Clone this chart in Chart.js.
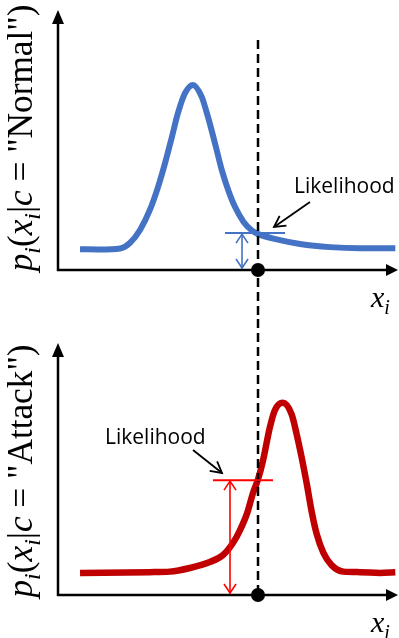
<!DOCTYPE html>
<html>
<head>
<meta charset="utf-8">
<script src="https://cdn.jsdelivr.net/npm/chart.js@4.4.1/dist/chart.umd.min.js"></script>
<style>
  html, body { margin: 0; padding: 0; background: #fff; }
  #wrap { position: relative; width: 399px; height: 638px; }
  canvas { position: absolute; left: 0; }
  #top-chart { top: 0; }
  #bottom-chart { top: 319px; }
</style>
</head>
<body>
<div id="wrap">
  <canvas id="top-chart" width="399" height="319"></canvas>
  <canvas id="bottom-chart" width="399" height="319"></canvas>
</div>
<script>
// curve samples (x: 0..10 along the axis, y: height above the axis)
const normalX = [0.65, 1.24, 1.83, 2.12, 2.42, 2.71, 2.95, 3.16, 3.36, 3.54, 3.75, 3.98, 4.24, 4.39, 4.53, 4.68, 4.83, 5.02, 5.22, 5.47, 5.71, 5.91, 6.55, 7.14, 8.02, 8.91, 9.95];
const normalY = [0.08, 0.079, 0.083, 0.104, 0.154, 0.231, 0.319, 0.412, 0.512, 0.604, 0.681, 0.712, 0.666, 0.604, 0.538, 0.462, 0.385, 0.308, 0.243, 0.186, 0.153, 0.138, 0.115, 0.1, 0.088, 0.084, 0.084];

const attackX = [0.65, 2.71, 3.30, 3.89, 4.48, 4.87, 5.16, 5.37, 5.58, 5.75, 5.90, 6.05, 6.25, 6.40, 6.63, 6.89, 7.04, 7.19, 7.34, 7.48, 7.63, 7.83, 8.07, 8.42, 8.91, 9.50, 9.95];
const attackY = [0.085, 0.088, 0.09, 0.104, 0.127, 0.154, 0.2, 0.25, 0.315, 0.392, 0.445, 0.519, 0.646, 0.712, 0.74, 0.696, 0.619, 0.528, 0.427, 0.323, 0.235, 0.162, 0.115, 0.09, 0.088, 0.085, 0.088];

// the observed value x_i and the likelihood read at it
const cutX = 5.9;
const likelihoodNormal = 0.142;
const likelihoodAttack = 0.442;

const labelText = 'Likelihood';
const xTitle = [['x', 'it'], ['i', 'sub']];
const yTitleNormal = [['p', 'it'], ['i', 'sub'], ['(', ''], ['x', 'it'], ['i', 'sub'], ['|', ''], ['c', 'it'], [' = ', ''], ['"Normal")', '']];
const yTitleAttack = [['p', 'it'], ['i', 'sub'], ['(', ''], ['x', 'it'], ['i', 'sub'], ['|', ''], ['c', 'it'], [' = ', ''], ['"Attack")', '']];

const SERIF = '"Liberation Serif", serif';

function partFont(style, size) {
    if (style === 'sub') return 'italic ' + Math.round(size * 0.68) + 'px ' + SERIF;
    if (style === 'it') return 'italic ' + size + 'px ' + SERIF;
    return size + 'px ' + SERIF;
}

function mathWidth(ctx, parts, size) {
    let w = 0;
    parts.forEach(([t, s]) => { ctx.font = partFont(s, size); w += ctx.measureText(t).width; });
    return w;
}

function drawMath(ctx, parts, size, x0) {
    let x = x0;
    parts.forEach(([t, s]) => {
        ctx.font = partFont(s, size);
        ctx.fillText(t, x, s === 'sub' ? size * 0.22 : 0);
        x += ctx.measureText(t).width;
    });
}

function drawMathAt(ctx, parts, size, x0, yb) {
    ctx.save();
    ctx.translate(0, yb);
    drawMath(ctx, parts, size, x0);
    ctx.restore();
}

function arrowHead(ctx, fx, fy, tx, ty, len, half, filled) {
    const a = Math.atan2(ty - fy, tx - fx);
    const bx = tx - Math.cos(a) * len, by = ty - Math.sin(a) * len;
    const px = -Math.sin(a) * half, py = Math.cos(a) * half;
    ctx.beginPath();
    ctx.moveTo(bx + px, by + py);
    ctx.lineTo(tx, ty);
    ctx.lineTo(bx - px, by - py);
    if (filled) { ctx.closePath(); ctx.fill(); } else { ctx.stroke(); }
}

const sketchPlugin = {
    id: 'sketch',
    afterDraw(chart, args, o) {
        const { ctx, chartArea: a, scales: { x, y } } = chart;
        const y0 = y.getPixelForValue(0);
        const cx = x.getPixelForValue(o.cut);
        const lv = y.getPixelForValue(o.level);
        ctx.save();
        ctx.strokeStyle = '#000';
        ctx.fillStyle = '#000';
        ctx.lineCap = 'butt';

        // axes with arrows
        ctx.lineWidth = 2.5;
        ctx.beginPath();
        ctx.moveTo(a.left, y0 + 1);
        ctx.lineTo(a.left, a.top + 12);
        ctx.moveTo(a.left - 1, y0);
        ctx.lineTo(a.right - 10, y0);
        ctx.stroke();
        arrowHead(ctx, a.left, y0, a.left, a.top, 14, 6, true);
        arrowHead(ctx, a.left, y0, a.right + 1, y0, 12, 6, true);

        // dashed x_i line
        ctx.lineWidth = 2.5;
        ctx.setLineDash([9, 5]);
        ctx.beginPath();
        ctx.moveTo(cx, o.dashFrom);
        ctx.lineTo(cx, o.dashTo);
        ctx.stroke();
        ctx.setLineDash([]);

        // likelihood marker + double arrow
        ctx.strokeStyle = o.markColor;
        ctx.lineWidth = 2;
        ctx.beginPath();
        ctx.moveTo(cx + o.markFrom, lv);
        ctx.lineTo(cx + o.markTo, lv);
        ctx.stroke();
        const ax = cx + o.arrowAt;
        ctx.lineWidth = 1.6;
        ctx.beginPath();
        ctx.moveTo(ax, lv + 1);
        ctx.lineTo(ax, y0 - 1);
        ctx.stroke();
        arrowHead(ctx, ax, y0, ax, lv + 1, 9, 6, false);
        arrowHead(ctx, ax, lv, ax, y0 - 2, 9, 6, false);

        // observation dot
        ctx.fillStyle = '#000';
        ctx.beginPath();
        ctx.arc(cx, y0, 7, 0, Math.PI * 2);
        ctx.fill();

        // "Likelihood" label and pointer
        ctx.font = '21px "Open Sans", sans-serif';
        ctx.textBaseline = 'alphabetic';
        ctx.fillText(labelText, o.textX, o.textY);
        ctx.strokeStyle = '#000';
        ctx.lineWidth = 1.8;
        ctx.beginPath();
        ctx.moveTo(o.ptr[0], o.ptr[1]);
        ctx.lineTo(o.ptr[2], o.ptr[3]);
        ctx.stroke();
        arrowHead(ctx, o.ptr[0], o.ptr[1], o.ptr[2], o.ptr[3], 11, 6, false);

        // x title
        drawMathAt(ctx, xTitle, 30, 371, a.bottom + 37);

        // y title (rotated)
        const size = o.titleSize;
        ctx.translate(32, o.titleMid);
        ctx.rotate(-Math.PI / 2);
        drawMath(ctx, o.title, size, -mathWidth(ctx, o.title, size) / 2);
        ctx.restore();
    }
};

function makeChart(id, xs, ys, color, width, yMax, pad, opts) {
    return new Chart(document.getElementById(id), {
        type: 'line',
        data: {
            datasets: [{
                data: xs.map((v, i) => ({ x: v, y: ys[i] })),
                borderColor: color,
                borderWidth: width,
                pointRadius: 0,
                cubicInterpolationMode: 'monotone',
                fill: false
            }]
        },
        options: {
            responsive: false,
            animation: false,
            devicePixelRatio: 1,
            layout: { padding: pad },
            plugins: { legend: { display: false }, tooltip: { enabled: false }, sketch: opts },
            scales: {
                x: { type: 'linear', min: 0, max: 10, display: false },
                y: { min: 0, max: yMax, display: false }
            }
        },
        plugins: [sketchPlugin]
    });
}

document.addEventListener('DOMContentLoaded', () => {
    // fit the y title size so the "Normal" title spans ~267px
    const mctx = document.getElementById('top-chart').getContext('2d');
    const titleSize = 26 * 267 / mathWidth(mctx, yTitleNormal, 26);

    makeChart('top-chart', normalX, normalY, '#4472C4', 6, 1,
        { left: 58, right: 2, top: 10, bottom: 49 },
        { cut: cutX, level: likelihoodNormal, dashFrom: 40, dashTo: 319,
          markColor: '#4472C4', markFrom: -33, markTo: 27, arrowAt: -16,
          textX: 294, textY: 193, ptr: [310, 202, 274, 227],
          title: yTitleNormal, titleSize: titleSize, titleMid: 138 });

    makeChart('bottom-chart', attackX, attackY, '#C00000', 6.5, 0.97,
        { left: 58, right: 2, top: 24, bottom: 43 },
        { cut: cutX, level: likelihoodAttack, dashFrom: 0, dashTo: 276,
          markColor: '#FF0000', markFrom: -45, markTo: 15, arrowAt: -28,
          textX: 105, textY: 125, ptr: [193, 131, 222, 154],
          title: yTitleAttack, titleSize: titleSize, titleMid: 152 });
});
</script>
</body>
</html>
